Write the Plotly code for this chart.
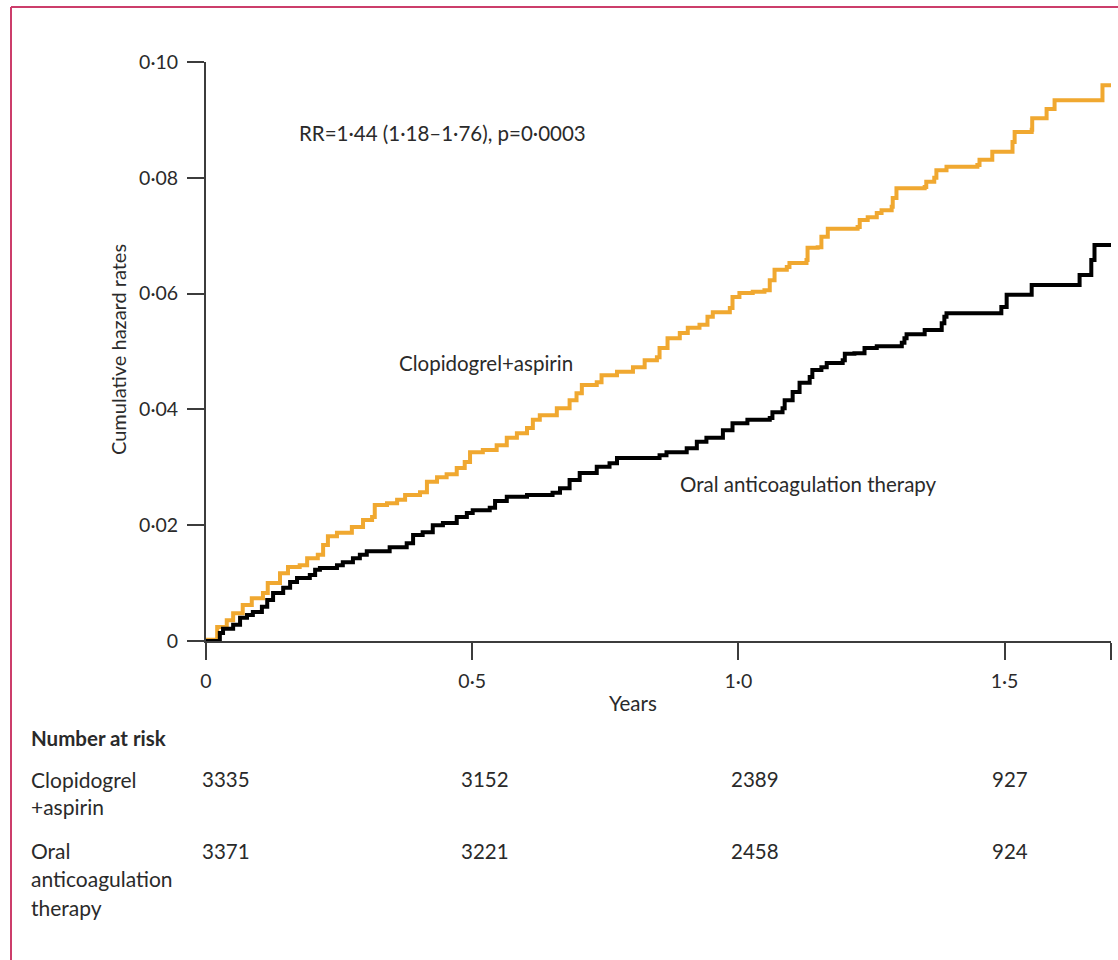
import plotly.graph_objects as go

# ---------------- data ----------------
clop_t = [0, 0.002, 0.021, 0.039, 0.051, 0.069, 0.086, 0.107, 0.116, 0.139, 0.154, 0.176, 0.190,
          0.210, 0.220, 0.229, 0.246, 0.274, 0.295, 0.312, 0.317, 0.340, 0.359, 0.374, 0.402,
          0.415, 0.434, 0.452, 0.471, 0.486, 0.496, 0.520, 0.546, 0.565, 0.584, 0.603, 0.614,
          0.627, 0.659, 0.683, 0.696, 0.706, 0.734, 0.743, 0.772, 0.802, 0.824, 0.847, 0.852,
          0.867, 0.890, 0.905, 0.927, 0.942, 0.952, 0.984, 0.989, 1.002, 1.027, 1.049, 1.059,
          1.068, 1.091, 1.096, 1.128, 1.130, 1.149, 1.156, 1.168, 1.224, 1.228, 1.243, 1.260,
          1.269, 1.288, 1.290, 1.297, 1.350, 1.353, 1.368, 1.372, 1.391, 1.449, 1.453, 1.477,
          1.515, 1.519, 1.551, 1.552, 1.579, 1.594, 1.684, 1.700]
clop_h = [0, 0.0002, 0.0024, 0.0036, 0.0048, 0.0062, 0.0074, 0.0083, 0.0100, 0.0117, 0.0128, 0.0131, 0.0143,
          0.0149, 0.0166, 0.0181, 0.0187, 0.0197, 0.0209, 0.0214, 0.0235, 0.0238, 0.0244, 0.0252, 0.0257,
          0.0275, 0.0283, 0.0288, 0.0299, 0.0309, 0.0326, 0.0330, 0.0338, 0.0351, 0.0359, 0.0368, 0.0382,
          0.0390, 0.0402, 0.0416, 0.0428, 0.0442, 0.0447, 0.0459, 0.0465, 0.0473, 0.0485, 0.0490, 0.0506,
          0.0523, 0.0532, 0.0541, 0.0546, 0.0560, 0.0568, 0.0575, 0.0594, 0.0601, 0.0603, 0.0606, 0.0623,
          0.0641, 0.0646, 0.0653, 0.0658, 0.0679, 0.0680, 0.0698, 0.0712, 0.0715, 0.0727, 0.0732, 0.0739,
          0.0744, 0.0750, 0.0765, 0.0782, 0.0784, 0.0793, 0.0800, 0.0813, 0.0819, 0.0822, 0.0831, 0.0845,
          0.0862, 0.0879, 0.0883, 0.0903, 0.0919, 0.0934, 0.0960, 0.0960]

oac_t = [0, 0.026, 0.032, 0.051, 0.064, 0.077, 0.088, 0.105, 0.115, 0.126, 0.145, 0.158, 0.171,
         0.195, 0.205, 0.214, 0.246, 0.257, 0.276, 0.289, 0.302, 0.345, 0.377, 0.389, 0.407,
         0.426, 0.445, 0.471, 0.490, 0.501, 0.533, 0.543, 0.565, 0.603, 0.651, 0.665, 0.683,
         0.702, 0.734, 0.758, 0.772, 0.852, 0.865, 0.903, 0.922, 0.940, 0.971, 0.989, 1.017,
         1.059, 1.064, 1.083, 1.087, 1.102, 1.115, 1.134, 1.139, 1.156, 1.166, 1.196, 1.200,
         1.218, 1.237, 1.260, 1.307, 1.312, 1.316, 1.350, 1.382, 1.387, 1.391, 1.494, 1.504,
         1.551, 1.641, 1.663, 1.669, 1.700]
oac_h = [0, 0.0014, 0.0021, 0.0028, 0.0040, 0.0045, 0.0050, 0.0059, 0.0071, 0.0083, 0.0092, 0.0102, 0.0109,
         0.0114, 0.0123, 0.0126, 0.0131, 0.0136, 0.0143, 0.0149, 0.0155, 0.0162, 0.0169, 0.0183, 0.0188,
         0.0200, 0.0204, 0.0214, 0.0221, 0.0226, 0.0230, 0.0242, 0.0249, 0.0252, 0.0256, 0.0264, 0.0278,
         0.0290, 0.0301, 0.0307, 0.0316, 0.0321, 0.0326, 0.0333, 0.0344, 0.0351, 0.0364, 0.0376, 0.0382,
         0.0385, 0.0395, 0.0402, 0.0416, 0.0430, 0.0446, 0.0456, 0.0468, 0.0473, 0.0480, 0.0485, 0.0496,
         0.0497, 0.0506, 0.0509, 0.0515, 0.0523, 0.0530, 0.0537, 0.0549, 0.0560, 0.0566, 0.0577, 0.0598,
         0.0615, 0.0632, 0.0658, 0.0684, 0.0684]

x_tickvals = [0, 0.5, 1.0, 1.5, 1.7]
x_ticktext = ["0", "0·5", "1·0", "1·5", ""]
y_tickvals = [0, 0.02, 0.04, 0.06, 0.08, 0.10]
y_ticktext = ["0", "0·02", "0·04", "0·06", "0·08", "0·10"]

risk_times = [0, 0.5, 1.0, 1.5]
clop_risk = [3335, 3152, 2389, 927]
oac_risk = [3371, 3221, 2458, 924]

# ---------------- style ----------------
FONT = "Lato"
TXT = "#2a2a2a"
AX = "#3c3c3c"
FS = 20.5
ORANGE = "#F0A830"

L, R, T, B = 206, 1111, 62, 641
W, H = 1118, 960


def px_x(p):
    return (p - L) / (R - L)


def px_y(p):
    return (B - p) / (B - T)


fig = go.Figure()
fig.add_trace(go.Scatter(x=clop_t, y=clop_h, mode="lines", line=dict(color=ORANGE, width=4, shape="hv"),
                         name="Clopidogrel+aspirin", showlegend=False, hoverinfo="skip"))
fig.add_trace(go.Scatter(x=oac_t, y=oac_h, mode="lines", line=dict(color="#000000", width=4, shape="hv"),
                         name="Oral anticoagulation therapy", showlegend=False, hoverinfo="skip"))

axis_common = dict(showgrid=False, zeroline=False, showline=True, linewidth=2, linecolor=AX,
                   ticks="outside", ticklen=17, tickwidth=2, tickcolor=AX,
                   tickfont=dict(family=FONT, size=19.5, color=TXT))

fig.update_layout(
    width=W, height=H, autosize=False,
    margin=dict(l=L, r=W - R, t=T, b=H - B),
    paper_bgcolor="white", plot_bgcolor="white",
    font=dict(family=FONT, size=FS, color=TXT),
    xaxis=dict(range=[0, 1.7], tickvals=x_tickvals, ticktext=x_ticktext, ticklabelstandoff=5, **axis_common),
    yaxis=dict(range=[0, 0.1], tickvals=y_tickvals, ticktext=y_ticktext, ticklabelstandoff=5, **axis_common),
)

ann = []


def text(s, x, y, xanchor="left", bold=False, angle=0, size=FS):
    ann.append(dict(text=("<b>%s</b>" % s) if bold else s, x=px_x(x), y=px_y(y), xref="paper", yref="paper",
                    xanchor=xanchor, yanchor="middle", showarrow=False, textangle=angle,
                    font=dict(family=FONT, size=size, color=TXT)))


text("RR=1·44 (1·18–1·76), p=0·0003", 297, 133)
text("Clopidogrel+aspirin", 397, 363)
text("Oral anticoagulation therapy", 678, 484)
text("Years", 633, 703, xanchor="center")
text("Cumulative hazard rates", 118, 350, xanchor="center", angle=-90, size=20)
text("Number at risk", 29, 738, bold=True)
text("Clopidogrel", 29, 779, size=21)
text("+aspirin", 29, 806, size=21)
text("Oral", 29, 850, size=21)
text("anticoagulation", 29, 878, size=21)
text("therapy", 29, 907, size=21)

col_shift = [-6, -13, -9, -15]
for t, a, b, s in zip(risk_times, clop_risk, oac_risk, col_shift):
    ann.append(dict(text=str(a), x=t, y=px_y(779), xref="x", yref="paper", xanchor="left", yanchor="middle",
                    xshift=s, showarrow=False, font=dict(family=FONT, size=FS, color=TXT)))
    ann.append(dict(text=str(b), x=t, y=px_y(851), xref="x", yref="paper", xanchor="left", yanchor="middle",
                    xshift=s, showarrow=False, font=dict(family=FONT, size=FS, color=TXT)))

fig.update_layout(annotations=ann)

# frame border (left and top edges)
BORDER = "#CC3D6B"
fig.add_shape(type="line", xref="paper", yref="paper", x0=px_x(11), x1=px_x(11), y0=px_y(7), y1=px_y(962),
              line=dict(color=BORDER, width=2))
fig.add_shape(type="line", xref="paper", yref="paper", x0=px_x(11), x1=px_x(1120), y0=px_y(7), y1=px_y(7),
              line=dict(color=BORDER, width=2))

fig.write_html("out.html")
